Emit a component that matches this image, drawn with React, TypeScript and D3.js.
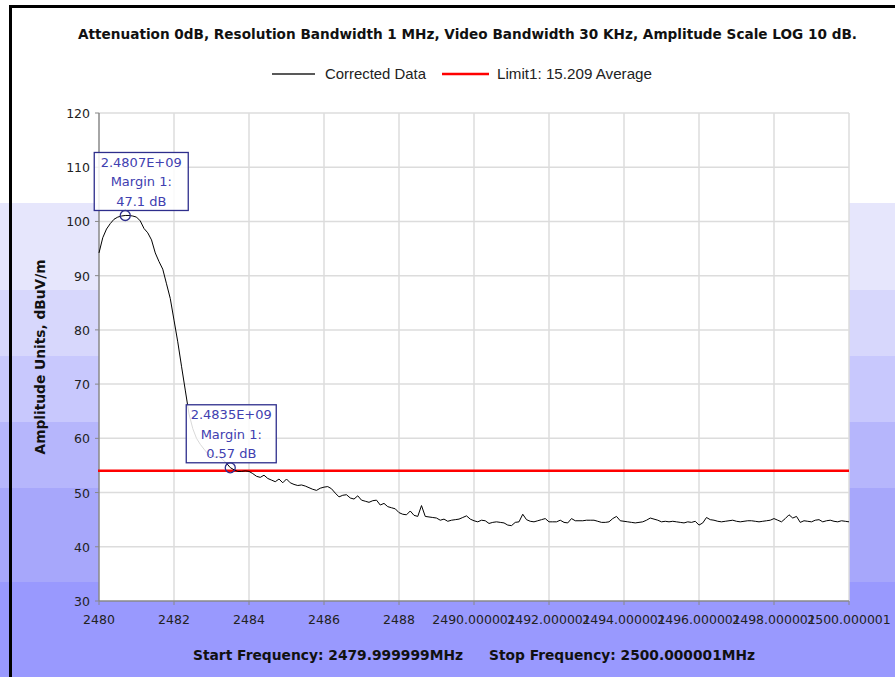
import React from 'react';
import * as d3 from 'd3';

// sweep: 2480 -> 2500 MHz, one reading every 0.1 MHz (dBuV/m)
const startFreq = 2480;
const stepMHz = 0.1;
const correctedData = [
  94.2, 97.0, 98.6, 99.6, 100.4, 100.8, 101.0, 101.1, 101.1, 101.0,
  100.8, 100.1, 98.7, 97.9, 96.6, 94.2, 92.6, 91.2, 88.5, 85.8,
  81.8, 77.8, 73.3, 68.9, 64.5, 61.8, 60.0, 58.9, 58.0, 57.2,
  56.8, 56.5, 56.7, 56.1, 55.4, 54.6, 54.2, 53.9, 53.9, 54.0,
  53.9, 53.5, 53.0, 52.8, 53.2, 52.6, 52.3, 52.0, 52.5, 51.8,
  52.5, 51.8, 51.5, 51.3, 51.4, 51.2, 50.9, 50.6, 50.4, 50.8,
  51.0, 51.1, 50.7, 49.9, 49.2, 49.5, 49.6, 49.0, 48.8, 49.4,
  48.6, 48.4, 48.2, 48.5, 48.6, 47.7, 48.0, 47.4, 47.2, 47.0,
  46.3, 46.0, 45.9, 46.6, 45.8, 45.6, 47.6, 45.6, 45.5, 45.4,
  45.3, 44.9, 45.1, 44.7, 44.9, 45.0, 45.1, 45.4, 45.7, 45.1,
  44.8, 44.6, 44.9, 44.8, 44.3, 44.5, 44.6, 44.5, 44.4, 44.0,
  43.9, 44.5, 44.6, 46.0, 45.0, 44.7, 44.6, 44.8, 45.0, 45.2,
  44.6, 44.6, 44.6, 44.9, 44.5, 44.4, 45.2, 44.8, 44.8, 44.8,
  44.9, 44.9, 44.9, 44.7, 44.5, 44.5, 44.6, 45.2, 45.6, 44.8,
  44.7, 44.6, 44.5, 44.4, 44.5, 44.6, 44.9, 45.3, 45.1, 44.9,
  44.6, 44.7, 44.6, 44.7, 44.6, 44.5, 44.4, 44.6, 44.5, 44.7,
  44.0, 44.4, 45.4, 45.0, 44.9, 44.7, 44.6, 44.7, 44.8, 44.9,
  44.7, 44.6, 44.7, 44.8, 44.8, 44.7, 44.6, 44.7, 44.8, 44.9,
  45.2, 44.9, 44.6, 45.2, 45.9, 45.3, 45.6, 44.5, 44.8, 44.7,
  44.6, 44.9, 45.0, 44.6, 44.8, 44.9, 44.7, 44.6, 44.8, 44.7,
  44.6,
];

const limitValue = 54;

const yTicks = [30, 40, 50, 60, 70, 80, 90, 100, 110, 120];
const xTicks = [2480, 2482, 2484, 2486, 2488, 2490, 2492, 2494, 2496, 2498, 2500];
const xTickLabels = [
  '2480', '2482', '2484', '2486', '2488',
  '2490.000001', '2492.000001', '2494.000001', '2496.000001', '2498.000001', '2500.000001',
];

const markerFreqs = [2480.7, 2483.5];
const markerValues = [101.1, 54.57];
const markerLabels = [
  ['2.4807E+09', 'Margin 1:', '47.1 dB'],
  ['2.4835E+09', 'Margin 1:', '0.57 dB'],
];

const titleText =
  'Attenuation 0dB, Resolution Bandwidth 1 MHz, Video Bandwidth 30 KHz, Amplitude Scale LOG 10 dB.';

const W = 895;
const H = 677;
const plot = { left: 99, right: 849, top: 113, bottom: 601 };

// stepped backdrop, top to bottom
const bands = [
  { y: 203, h: 87, c: '#e6e6fc' },
  { y: 290, h: 66, c: '#d7d7fc' },
  { y: 356, h: 66, c: '#c8c8fd' },
  { y: 422, h: 66, c: '#b6b6fc' },
  { y: 488, h: 94, c: '#a7a7fb' },
  { y: 582, h: 95, c: '#9999fe' },
];

const App = () => {
  const x = d3.scaleLinear().domain([2480, 2500]).range([plot.left, plot.right]);
  const y = d3.scaleLinear().domain([30, 120]).range([plot.bottom, plot.top]);

  const points = correctedData.map((v, i) => [startFreq + i * stepMHz, v] as [number, number]);
  const line = d3
    .line<[number, number]>()
    .x(d => x(d[0]))
    .y(d => y(d[1]));

  const font = 'DejaVu Sans, Verdana, sans-serif';
  const markColor = '#2e2e8c';
  const markText = '#4040b0';
  const boxDx = [16, 1];

  return (
    <svg
      width={W}
      height={H}
      style={{ position: 'absolute', left: 0, top: 0, display: 'block' }}
      fontFamily={font}
    >
      <rect x={0} y={0} width={W} height={H} fill="#ffffff" />
      {bands.map((b, i) => (
        <rect key={i} x={0} y={b.y} width={W} height={b.h} fill={b.c} />
      ))}
      {/* frame edges */}
      <rect x={9} y={5} width={W - 9} height={3} fill="#000" />
      <rect x={9} y={5} width={3} height={H - 5} fill="#000" />

      <text
        x={78}
        y={39}
        fontWeight="bold"
        fontSize={13.5}
        fill="#111"
        textLength={779}
        lengthAdjust="spacingAndGlyphs"
      >
        {titleText}
      </text>

      {/* legend */}
      <line x1={272} x2={315} y1={74} y2={74} stroke="#222" strokeWidth={1.5} />
      <text x={325} y={79} fontFamily="Liberation Sans, Arial, sans-serif" fontSize={14.5} fill="#222"
        textLength={101} lengthAdjust="spacingAndGlyphs">
        Corrected Data
      </text>
      <line x1={442} x2={489} y1={74} y2={74} stroke="#ff0000" strokeWidth={2.5} />
      <text x={497} y={79} fontFamily="Liberation Sans, Arial, sans-serif" fontSize={14.5} fill="#222"
        textLength={155} lengthAdjust="spacingAndGlyphs">
        Limit1: 15.209 Average
      </text>

      {/* plot area */}
      <rect
        x={plot.left}
        y={plot.top}
        width={plot.right - plot.left}
        height={plot.bottom - plot.top}
        fill="#ffffff"
      />
      {yTicks.slice(1).map(t => (
        <line key={'gy' + t} x1={plot.left} x2={plot.right} y1={y(t)} y2={y(t)} stroke="#dcdcdc" strokeWidth={1.5} />
      ))}
      {xTicks.slice(1).map(t => (
        <line key={'gx' + t} x1={x(t)} x2={x(t)} y1={plot.top} y2={plot.bottom} stroke="#dcdcdc" strokeWidth={1.5} />
      ))}

      {/* axes */}
      <line x1={plot.left} x2={plot.left} y1={plot.top} y2={plot.bottom} stroke="#888" strokeWidth={1.5} />
      <line x1={plot.left} x2={plot.right} y1={plot.bottom} y2={plot.bottom} stroke="#888" strokeWidth={1.5} />
      {yTicks.map(t => (
        <g key={'ty' + t}>
          <line x1={plot.left - 4} x2={plot.left} y1={y(t)} y2={y(t)} stroke="#888" />
          <text x={plot.left - 9} y={y(t) + 5} textAnchor="end" fontSize={12.5} fill="#222">
            {t}
          </text>
        </g>
      ))}
      {xTicks.map((t, i) => (
        <g key={'tx' + t}>
          <line x1={x(t)} x2={x(t)} y1={plot.bottom} y2={plot.bottom + 4} stroke="#888" />
          <text x={x(t)} y={plot.bottom + 23} textAnchor="middle" fontSize={12.5} fill="#222">
            {xTickLabels[i]}
          </text>
        </g>
      ))}

      <text
        transform={`translate(45,${357}) rotate(-90)`}
        textAnchor="middle"
        fontWeight="bold"
        fontSize={13.5}
        fill="#111"
        textLength={195}
        lengthAdjust="spacingAndGlyphs"
      >
        Amplitude Units, dBuV/m
      </text>

      <text x={193} y={660} fontWeight="bold" fontSize={13.5} fill="#111"
        textLength={270} lengthAdjust="spacingAndGlyphs">
        Start Frequency: 2479.999999MHz
      </text>
      <text x={489} y={660} fontWeight="bold" fontSize={13.5} fill="#111"
        textLength={266} lengthAdjust="spacingAndGlyphs">
        Stop Frequency: 2500.000001MHz
      </text>

      {/* limit and trace */}
      <line
        x1={plot.left - 1}
        x2={plot.right}
        y1={y(limitValue)}
        y2={y(limitValue)}
        stroke="#ff0000"
        strokeWidth={2.5}
      />
      <path d={line(points) ?? ''} fill="none" stroke="#000" strokeWidth={1} />

      {/* markers */}
      {markerFreqs.map((f, i) => {
        const mx = x(f);
        const my = y(markerValues[i]);
        const bw = i === 0 ? 94 : 90;
        const bh = 58;
        const bx = mx + boxDx[i] - bw / 2;
        const by = my - 5 - bh;
        return (
          <g key={'m' + i}>
            <rect x={bx} y={by} width={bw} height={bh} fill="#ffffff" fillOpacity={0.85} stroke={markColor} strokeWidth={1.3} />
            {markerLabels[i].map((s, k) => (
              <text
                key={k}
                x={bx + bw / 2}
                y={by + 14.5 + k * 19.5}
                textAnchor="middle"
                fontSize={13}
                fill={markText}
              >
                {s}
              </text>
            ))}
            <circle cx={mx} cy={my} r={5} fill="none" stroke={markColor} strokeWidth={1.3} />
          </g>
        );
      })}
    </svg>
  );
};

export default App;
